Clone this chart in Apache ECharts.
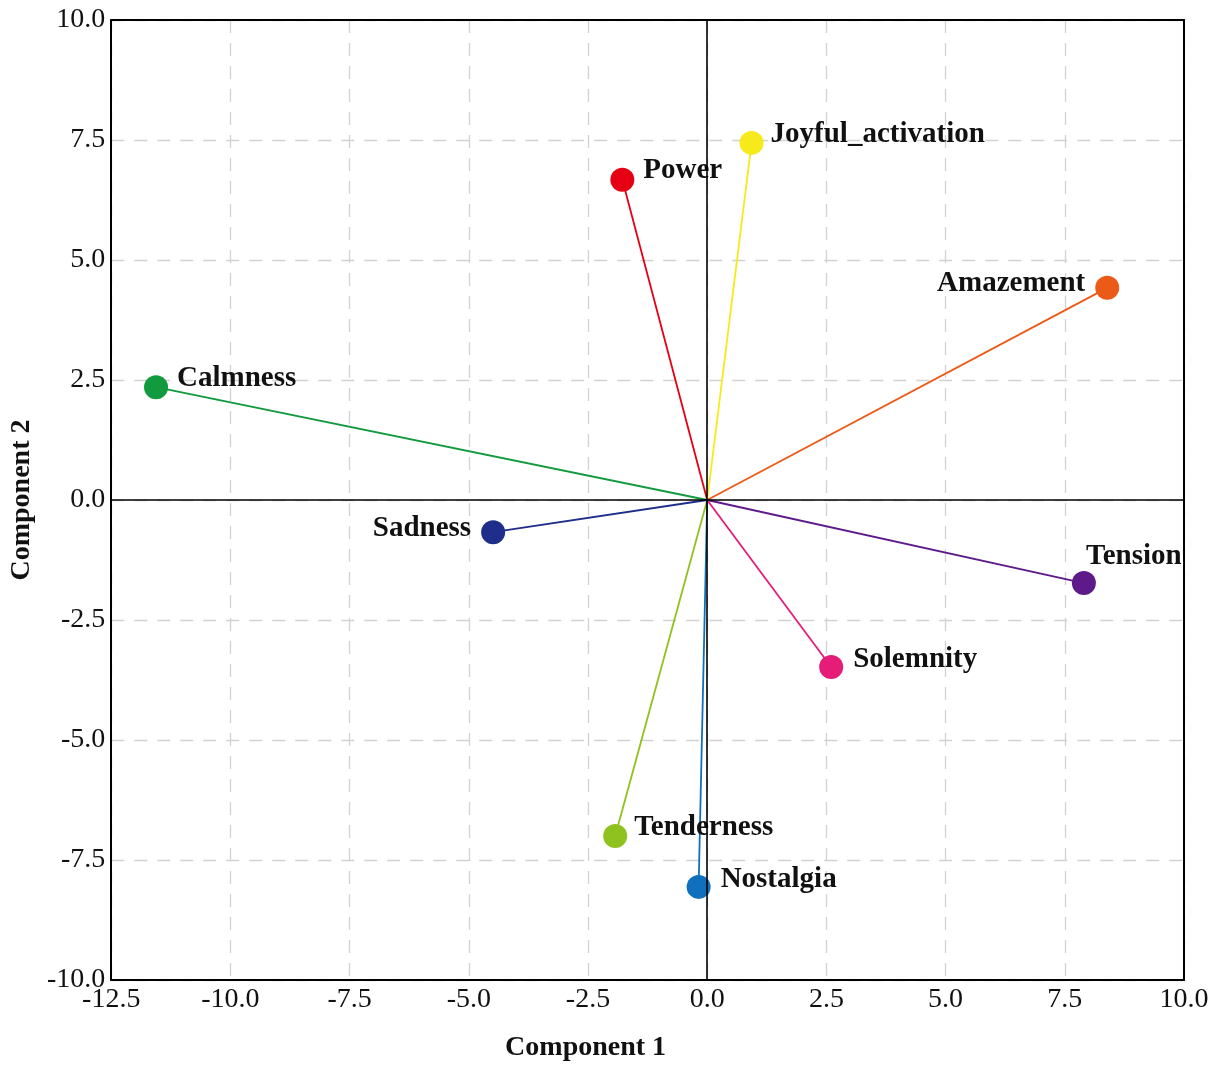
<!DOCTYPE html>
<html>
<head>
<meta charset="utf-8">
<title>Component loadings</title>
<script src="https://cdn.jsdelivr.net/npm/echarts@6/dist/echarts.min.js"></script>
<style>
  html, body { margin: 0; padding: 0; background: #fff; }
  #chart { width: 1228px; height: 1070px; }
</style>
</head>
<body>
<div id="chart"></div>
<script>
// Emotion factors and their loadings on the first two components
const emotions = ['Calmness', 'Sadness', 'Power', 'Joyful_activation', 'Amazement',
                  'Tension', 'Solemnity', 'Tenderness', 'Nostalgia'];
const component1 = [-11.56, -4.49, -1.78, 0.93, 8.39, 7.90, 2.60, -1.93, -0.18];
const component2 = [2.35, -0.67, 6.67, 7.44, 4.42, -1.73, -3.48, -7.00, -8.06];

// Axis ranges and tick step
const xRange = [-12.5, 10.0];
const yRange = [-10.0, 10.0];
const tickStep = 2.5;

// One colour per emotion
const palette = ['#129a3e', '#1f2e8a', '#e60013', '#f7ea1a', '#eb5a16',
                 '#5f1a8a', '#e51c78', '#8fc21f', '#1170bd'];

// Where each label sits relative to its marker
const labelPlacement = {
  Calmness:          { position: 'right', offset: [-1, -9] },
  Sadness:           { position: 'left',  offset: [0, -4] },
  Power:             { position: 'right', offset: [-1, -9] },
  Joyful_activation: { position: 'right', offset: [-3, -8] },
  Amazement:         { position: 'left',  offset: [0, -4] },
  Tension:           { position: 'top',   offset: [50, 10] },
  Solemnity:         { position: 'right', offset: [0, -8] },
  Tenderness:        { position: 'right', offset: [-3, -8] },
  Nostalgia:         { position: 'right', offset: [0, -7] }
};

const serif = '"Liberation Serif", "DejaVu Serif", serif';

const loadingSeries = emotions.map((name, i) => {
  const place = labelPlacement[name];
  return {
    name: name,
    type: 'line',
    z: 3,
    data: [
      { value: [0, 0], symbol: 'none' },
      {
        value: [component1[i], component2[i]],
        symbol: 'circle',
        symbolSize: 24,
        label: {
          show: true,
          formatter: name,
          position: place.position,
          offset: place.offset,
          distance: 10,
          fontFamily: serif,
          fontWeight: 'bold',
          fontSize: 29,
          color: '#111'
        }
      }
    ],
    lineStyle: { color: palette[i], width: 1.8 },
    itemStyle: { color: palette[i] },
    emphasis: { disabled: true },
    animation: false
  };
});

// Black reference lines through the origin, drawn above the labels
const zeroLines = {
  type: 'line',
  data: [],
  z: 10,
  markLine: {
    silent: true,
    symbol: 'none',
    animation: false,
    label: { show: false },
    lineStyle: { color: '#000', width: 1.6, type: 'solid' },
    data: [{ xAxis: 0 }, { yAxis: 0 }]
  }
};

const tickFont = { fontFamily: serif, fontSize: 28, color: '#111' };
const dashed = { show: true, lineStyle: { color: '#d2d2d2', width: 1.3, type: [13, 10] } };
const frameLine = { show: true, onZero: false, lineStyle: { color: '#000', width: 2 } };

const chart = echarts.init(document.getElementById('chart'), null, { renderer: 'canvas' });
chart.setOption({
  backgroundColor: '#fff',
  animation: false,
  grid: { left: 105, right: 44, top: 20, bottom: 90, containLabel: false },
  xAxis: [
    {
      type: 'value', min: xRange[0], max: xRange[1], interval: tickStep,
      axisLine: frameLine, axisTick: { show: false },
      axisLabel: Object.assign({ margin: 6, formatter: v => v.toFixed(1) }, tickFont),
      splitLine: dashed,
      name: 'Component 1', nameLocation: 'middle', nameGap: 54,
      nameTextStyle: { fontFamily: serif, fontWeight: 'bold', fontSize: 28, color: '#111', padding: [0, 124, 0, 0] }
    },
    {
      type: 'value', position: 'top', min: xRange[0], max: xRange[1], interval: tickStep,
      axisLine: frameLine, axisTick: { show: false }, axisLabel: { show: false }, splitLine: { show: false }
    }
  ],
  yAxis: [
    {
      type: 'value', min: yRange[0], max: yRange[1], interval: tickStep,
      axisLine: frameLine, axisTick: { show: false },
      axisLabel: Object.assign({ margin: 6, formatter: v => v.toFixed(1) }, tickFont),
      splitLine: dashed,
      name: 'Component 2', nameLocation: 'middle', nameGap: 68,
      nameTextStyle: { fontFamily: serif, fontWeight: 'bold', fontSize: 28, color: '#111' }
    },
    {
      type: 'value', position: 'right', min: yRange[0], max: yRange[1], interval: tickStep,
      axisLine: frameLine, axisTick: { show: false }, axisLabel: { show: false }, splitLine: { show: false }
    }
  ],
  series: loadingSeries.concat([zeroLines])
});
</script>
</body>
</html>
